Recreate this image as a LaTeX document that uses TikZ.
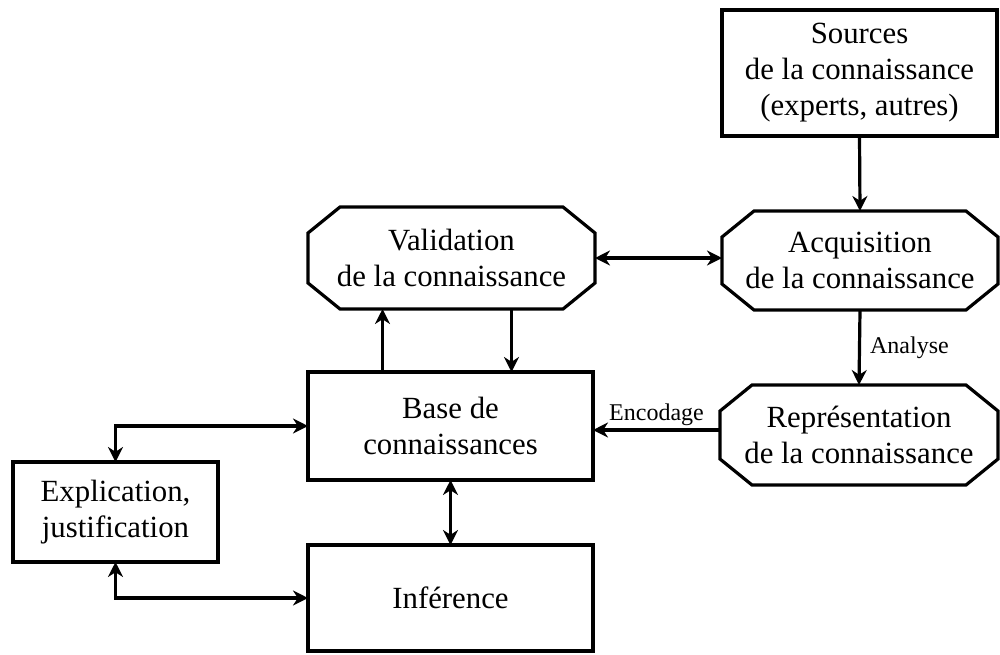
\documentclass[tikz,border=0pt]{standalone}
\usepackage{fontspec}
\setmainfont{Liberation Serif}
\usetikzlibrary{arrows.meta}
\newcommand\octagon[1]{%
  \draw[lw] ([xshift=16pt]#1.north west) -- ([xshift=-16pt]#1.north east)
    -- ([yshift=-13pt]#1.north east) -- ([yshift=13pt]#1.south east)
    -- ([xshift=-16pt]#1.south east) -- ([xshift=16pt]#1.south west)
    -- ([yshift=13pt]#1.south west) -- ([yshift=-13pt]#1.north west) -- cycle;}
\begin{document}
\begin{tikzpicture}[x=0.5pt,y=-0.5pt,
  lw/.style={line width=1.6pt, line join=miter},
  box/.style={lw, draw, rectangle, outer sep=0pt, inner sep=0pt, align=center,
    font=\fontsize{15.4}{18}\selectfont},
  oct/.style={box, draw=none},
  tip/.tip={Stealth[length=7.5pt,width=7.5pt,inset=2.4pt]},
  conn/.style={lw, -tip},
  both/.style={lw, tip-tip},
  lbl/.style={font=\fontsize{12}{14}\selectfont, inner sep=1.5pt}]
\useasboundingbox (0,0) rectangle (1000,654);

\node[box, minimum width=137.5pt, minimum height=63pt] (src) at (859.5,73)
  {Sources\\de la connaissance\\(experts, autres)};
\node[oct, minimum width=143.5pt, minimum height=51pt] (val) at (451.5,258)
  {Validation\\de la connaissance};
\node[oct, minimum width=138pt, minimum height=49.5pt] (acq) at (860,260.5)
  {Acquisition\\de la connaissance};
\node[oct, minimum width=139pt, minimum height=50pt] (rep) at (859,435)
  {Représentation\\de la connaissance};
\node[box, minimum width=142.5pt, minimum height=54pt] (base) at (450.5,426)
  {Base de\\connaissances};
\node[box, minimum width=142.5pt, minimum height=53pt] (inf) at (450.5,598)
  {Inférence};
\node[box, minimum width=102.5pt, minimum height=50pt] (expl) at (115.5,512)
  {Explication,\\justification};

\octagon{val}
\octagon{acq}
\octagon{rep}

\draw[conn] (src.south) -- (acq.north);
\draw[conn] (acq.south) -- node[lbl, right, xshift=3pt] {Analyse} (rep.north);
\draw[conn] ([yshift=2.5pt]rep.west) -- node[lbl, above] {Encodage} ([yshift=2.5pt]rep.west -| base.east);
\draw[both] (val.east) -- (val.east -| acq.west);
\draw[conn] ([xshift=-34pt]base.north) -- ([xshift=-34pt]base.north |- val.south);
\draw[conn] ([xshift=30pt]val.south) -- ([xshift=30pt]val.south |- base.north);
\draw[both] (base.south) -- (inf.north);
\draw[both] (base.west) -| (expl.north);
\draw[both] (inf.west) -| (expl.south);
\end{tikzpicture}
\end{document}
